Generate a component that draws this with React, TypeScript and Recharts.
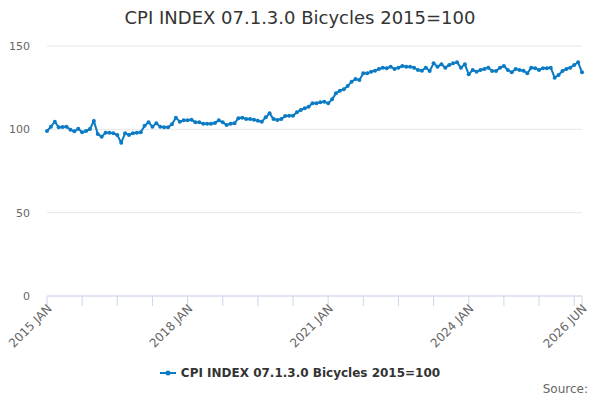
import React from "react";
import { LineChart, Line, XAxis, YAxis, CartesianGrid } from "recharts";

const seriesName = "CPI INDEX 07.1.3.0 Bicycles 2015=100";

// monthly values, 2015 JAN .. 2026 JUN
const values2015to2019 = [
  99, 101.6, 104.6, 101.2, 101.4, 101.6, 99.8, 98.8, 100.4, 98.2, 99, 100.2,
  105, 97.2, 95.6, 98, 98, 97.6, 96.6, 92, 97.6, 96.6, 97.6, 98,
  98.2, 102.2, 104.2, 101.6, 103.6, 101.6, 101.2, 101.2, 103, 107, 104.6, 105.4,
  105.4, 105.8, 104.2, 104.2, 103.4, 103.4, 103.4, 103.8, 105.4, 104.2, 102.6, 103.4,
  103.6, 106.6, 107, 106.2, 106.2, 105.8, 105.2, 104.6, 107.2, 109.6, 106.2, 105.6,
];
const values2020to2024 = [
  106.2, 108, 108.2, 108.2, 110.2, 111.6, 112.6, 113.6, 115.6, 115.6, 116.2, 116.6,
  115.6, 118, 121.6, 123.2, 124, 126, 128.6, 130.2, 129.6, 133.6, 133.6, 134.6,
  135.2, 136.2, 137, 136.6, 137.6, 136.2, 137, 138, 137.6, 137.6, 137, 135.6,
  135.2, 137, 135, 139.6, 137.6, 139, 137, 138.6, 139.6, 140.2, 137, 139,
  133, 135.6, 134.6, 135.6, 136.2, 137, 135, 135, 137, 138, 135.6, 134.2,
];
const values2025to2026 = [
  136.2, 135.6, 135.2, 133.6, 137, 136.6, 135.6, 136.6, 136.6, 137, 131, 132.6,
  135, 136.2, 137, 138.6, 140.2, 134.2,
];

const months = ["JAN", "FEB", "MAR", "APR", "MAY", "JUN", "JUL", "AUG", "SEP", "OCT", "NOV", "DEC"];
const xTicks = [0, 9, 18, 27, 36, 45, 54, 63, 72, 81, 90, 99, 108, 117, 126, 135, 137];
const labelledTicks = [0, 36, 72, 108, 137];
const yTicks = [0, 50, 100, 150];

const allValues = [...values2015to2019, ...values2020to2024, ...values2025to2026];
const data = allValues.map((v, i) => ({
  i,
  label: `${2015 + Math.floor(i / 12)} ${months[i % 12]}`,
  value: v,
}));

const lineColor = "#0a7bc4";
const font = "'DejaVu Sans', sans-serif";

const XTick = (props: any) => {
  const { x, y, payload } = props;
  if (!labelledTicks.includes(payload.value)) return null;
  const label = data[payload.value].label;
  return (
    <g transform={`translate(${x},${y})`}>
      <text
        x={3}
        y={5}
        textAnchor="end"
        transform="rotate(-45)"
        fontSize={12}
        fill="#666666"
        fontFamily={font}
      >
        {label}
      </text>
    </g>
  );
};

export default function App() {
  return (
    <div style={{ position: "absolute", left: 0, top: 0, width: 600, height: 400, fontFamily: font }}>
      <div
        style={{
          position: "absolute",
          top: 7,
          left: 0,
          width: 600,
          textAlign: "center",
          fontSize: 18,
          color: "#333333",
        }}
      >
        {seriesName}
      </div>
      <LineChart
        width={600}
        height={400}
        data={data}
        margin={{ top: 46, right: 18, bottom: 44, left: 0 }}
      >
        <CartesianGrid vertical={false} stroke="#e6e6e6" />
        <XAxis
          dataKey="i"
          type="number"
          domain={[0, 137]}
          ticks={xTicks}
          interval={0}
          height={60}
          stroke="#ccd6eb"
          tickSize={10}
          tickMargin={2}
          tick={<XTick />}
        />
        <YAxis
          domain={[0, 150]}
          ticks={yTicks}
          width={47}
          axisLine={false}
          tickLine={false}
          tickSize={0}
          tickMargin={17}
          tick={{ fontSize: 11, fill: "#666666", fontFamily: font }}
        />
        <Line
          type="linear"
          dataKey="value"
          name={seriesName}
          stroke={lineColor}
          strokeWidth={2}
          dot={{ r: 2, fill: lineColor, stroke: lineColor, strokeWidth: 0 }}
          isAnimationActive={false}
        />
      </LineChart>
      <div
        style={{
          position: "absolute",
          top: 366,
          left: 0,
          width: 600,
          display: "flex",
          justifyContent: "center",
          alignItems: "center",
          fontSize: 12,
          fontWeight: "bold",
          color: "#333333",
        }}
      >
        <svg width={16} height={10} style={{ marginRight: 5 }}>
          <line x1={0} y1={5} x2={16} y2={5} stroke={lineColor} strokeWidth={2} />
          <circle cx={8} cy={5} r={2.5} fill={lineColor} />
        </svg>
        <span>{seriesName}</span>
      </div>
      <div
        style={{
          position: "absolute",
          top: 382,
          right: 12,
          fontSize: 12,
          color: "#666666",
        }}
      >
        Source:
      </div>
    </div>
  );
}
